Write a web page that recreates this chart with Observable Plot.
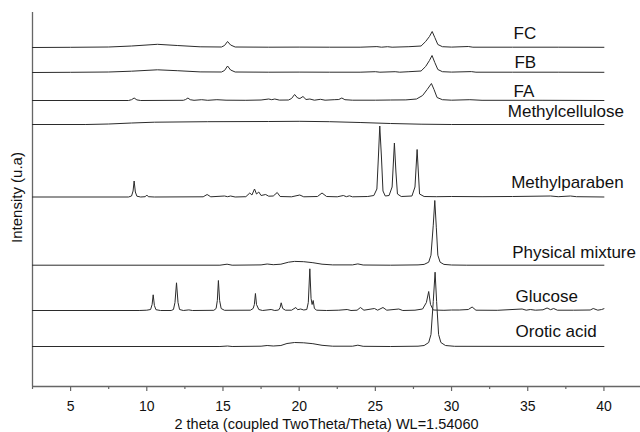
<!DOCTYPE html>
<html>
<head>
<meta charset="utf-8">
<script src="https://cdn.jsdelivr.net/npm/d3@7"></script>
<script src="https://cdn.jsdelivr.net/npm/@observablehq/plot@0.6"></script>
<style>
  html, body { margin: 0; padding: 0; background: #fff; }
  #chart svg { display: block; }
</style>
</head>
<body>
<div id="chart"></div>
<script>
// ---- Data (2θ, relative intensity) ----
const seriesNames = ["FC", "FB", "FA", "Methylcellulose", "Methylparaben", "Physical mixture", "Glucose", "Orotic acid"];

const FC = [[2.5,0],[5,0.2],[7.5,0.5],[9,1.5],[10.7,3.2],[12,2],[13.5,0.7],[14.9,0.5],[15.1,2],[15.3,6],[15.5,2.5],[15.8,0.5],[18,0.3],[20,0.4],[22,0.3],[24,0.3],[25.1,0.9],[25.4,0.3],[25.8,0.8],[26.1,0.3],[27.2,0.8],[28.0,1.5],[28.3,6],[28.55,11],[28.73,16],[28.9,10],[29.1,3],[29.4,0.8],[30,0.4],[31.1,1],[31.4,0.3],[34,0.3],[37,0.3],[40,0.2]];
const FB = [[2.5,0],[5,0.2],[7.5,0.5],[9,1.3],[10.7,2.7],[12,1.8],[13.5,0.6],[14.9,0.5],[15.1,2],[15.3,6.5],[15.5,2.5],[15.8,0.5],[18,0.3],[20,0.4],[22,0.3],[24,0.3],[25.0,0.8],[25.3,0.3],[26.3,0.8],[26.6,0.3],[27.2,0.8],[28.0,1.5],[28.3,6],[28.55,12],[28.72,17],[28.9,10],[29.1,3],[29.4,0.8],[30,0.4],[31.3,0.9],[31.6,0.3],[34,0.3],[37,0.3],[40,0.2]];
const FA = [[2.5,0],[8.8,0],[9.0,0.8],[9.17,2.5],[9.35,0.6],[9.6,0],[12.4,0.2],[12.55,1],[12.7,2.5],[12.85,0.8],[13.1,0.2],[13.6,0.8],[14,0.2],[14.6,0.8],[15.2,0.3],[16.5,0.2],[17.5,0.5],[18.0,1.5],[18.2,0.8],[18.4,1.5],[18.7,0.4],[19.3,0.5],[19.5,2],[19.7,6],[19.9,2.5],[20.05,2],[20.25,4],[20.45,1],[20.7,1.5],[21.0,0.3],[21.4,1.2],[21.7,0.3],[22.3,0.8],[22.6,1],[22.8,2.5],[23.0,0.8],[23.5,0.3],[25,0.3],[26,0.5],[27,0.6],[27.7,1.5],[28.1,5],[28.4,11],[28.68,17],[28.85,11],[29.05,3],[29.4,0.8],[30,0.3],[31.2,0.8],[32,0.2],[36,0.2],[40,0]];
const Methylcellulose = [[2.5,0],[6,0],[7.5,0.5],[9,1.5],[10.5,2.3],[14,2.8],[18,3],[20,3.2],[22,2.8],[24,2],[26,1],[28,0.3],[30,0],[40,0]];
const Methylparaben = [[2.5,0],[8.8,0],[9.0,1],[9.1,6],[9.17,16],[9.25,5],[9.35,0.8],[9.6,0],[9.9,0.3],[10.0,2],[10.1,0.3],[10.5,0],[13.7,0.2],[13.96,2.5],[14.2,0.2],[15.1,1],[15.3,0.3],[15.5,1],[15.8,0],[16.5,0.3],[16.76,4],[16.9,2],[17.07,8],[17.2,3],[17.35,5],[17.5,1.5],[17.8,2.5],[18.0,0.8],[18.3,1],[18.56,4.5],[18.75,0.5],[19.5,0.2],[20.04,2],[20.3,0.2],[21.2,0.5],[21.5,4],[21.8,0.5],[22.5,0.2],[22.9,1.5],[23.1,0.3],[23.3,1.2],[23.5,0.2],[24.5,0.5],[24.9,1.5],[25.1,8],[25.2,40],[25.29,71],[25.4,40],[25.5,6],[25.65,1],[25.9,1.5],[26.1,10],[26.25,54],[26.35,25],[26.45,3],[26.7,0.5],[27.4,1],[27.6,10],[27.74,47.5],[27.82,25],[27.9,3],[28.2,0.5],[29,0.3],[30,0.5],[32,0.3],[34,0.5],[36.5,1],[37,0.3],[37.8,1],[38.2,0.3],[40,0]];
const PhysicalMixture = [[2.5,0],[14.8,0],[15.27,1],[15.6,0],[17.5,0.3],[17.9,1.2],[18.3,0.5],[18.8,1],[19.3,3],[19.7,3.8],[20.3,3.5],[20.9,2.5],[21.5,1],[22.2,0.3],[23.5,0.3],[23.85,1.3],[24.2,0.2],[26,0],[27.8,0.3],[28.2,0.8],[28.5,3],[28.65,10],[28.8,40],[28.9,64.7],[29.0,38],[29.1,10],[29.25,3],[29.5,0.8],[30,0.2],[31,0],[40,0]];
const Glucose = [[2.5,0],[9.5,0],[10.0,0.3],[10.25,1],[10.35,6],[10.42,15.7],[10.5,5],[10.6,0.8],[10.9,0],[11.6,0],[11.75,1],[11.85,8],[11.95,27.7],[12.05,8],[12.15,1],[12.4,0],[12.76,0.6],[13.0,0],[14.4,0.2],[14.55,2],[14.63,10],[14.7,30],[14.78,10],[14.88,2],[15.1,0.2],[16.8,0.3],[16.98,2],[17.06,6],[17.13,17],[17.2,6],[17.35,1],[17.6,0],[18.16,1],[18.4,0],[18.65,0.5],[18.75,3],[18.82,7.7],[18.92,2],[19.1,0.3],[19.5,0.3],[19.78,3],[19.9,0.8],[20.1,1.5],[20.3,0.5],[20.5,1],[20.6,8],[20.7,41.7],[20.78,12],[20.85,6],[20.92,10],[21.0,2],[21.15,0.3],[21.8,0],[22.6,0.3],[23.15,1],[23.4,0],[23.8,0.3],[24.02,3],[24.25,0.3],[24.94,2],[25.15,0.3],[25.5,3],[25.75,0.3],[26.54,1.5],[26.8,0],[27.6,0.3],[28.1,1.5],[28.35,8],[28.5,19],[28.62,6],[28.8,0.5],[29.5,0.2],[30,0.5],[30.5,0.5],[31.1,1],[31.35,3.5],[31.6,0.3],[33,0.2],[34.63,1.5],[34.9,0.3],[35.17,1],[35.5,0.3],[36.0,0.7],[36.27,2.5],[36.5,0.8],[36.7,2],[36.95,0.3],[38,0.3],[39.1,0.5],[39.3,2],[39.6,0.3],[39.85,1],[40,1.8]];
const OroticAcid = [[2.5,0],[14.8,0],[15.3,0.5],[15.6,0],[17.5,0.3],[17.9,1],[18.3,0.5],[18.8,1],[19.2,3],[19.7,4],[20.3,3.7],[20.9,2.8],[21.5,1.2],[22.2,0.3],[23.5,0.3],[23.85,1.3],[24.2,0.2],[26,0],[27.8,0.3],[28.2,1],[28.5,4],[28.65,12],[28.8,45],[28.92,74.3],[29.02,45],[29.15,12],[29.3,4],[29.6,1],[30.2,0.2],[40,0]];

const majorTicks = [5, 10, 15, 20, 25, 30, 35, 40];
const minorTicks = [2.5, 7.5, 12.5, 17.5, 22.5, 27.5, 32.5, 37.5];
const xLabel = "2 theta (coupled TwoTheta/Theta) WL=1.54060";
const yLabel = "Intensity (u.a)";

// ---- Layout (vertical stacking offsets and label placement) ----
const traces = [FC, FB, FA, Methylcellulose, Methylparaben, PhysicalMixture, Glucose, OroticAcid];
const offsets = [339, 314, 286, 262, 189.5, 121.3, 76, 40];
const labelLift = [8.7, 4.3, 4, 7.3, 8.8, 7.4, 8.3, 9.3];
const labelX = [34.07, 34.13, 34.07, 33.69, 33.91, 33.98, 34.2, 34.2];

const rows = [];
traces.forEach((t, i) => t.forEach(([x, v]) => rows.push({series: seriesNames[i], x, y: offsets[i] + v})));
const labelRows = seriesNames.map((name, i) => ({name, x: labelX[i], y: offsets[i] + labelLift[i]}));

const font = "'Liberation Sans', Arial, Helvetica, sans-serif";

const chart = Plot.plot({
  width: 640,
  height: 432,
  marginLeft: 32,
  marginRight: 0,
  marginTop: 12,
  marginBottom: 46,
  style: {fontFamily: font, color: "#111", background: "#fff"},
  x: {domain: [2.5, 42.4], axis: null},
  y: {domain: [0, 374], axis: null},
  marks: [
    Plot.axisX({ticks: minorTicks, tickSize: 3, tickFormat: () => "", stroke: "#666", strokeWidth: 1.2, label: null}),
    Plot.axisX({ticks: majorTicks, tickSize: 5, tickPadding: 10, fontSize: 14, stroke: "#666", strokeWidth: 1.2, fill: "#111", label: null}),
    Plot.ruleY([0], {stroke: "#666", strokeWidth: 1.3}),
    Plot.ruleX([2.5], {stroke: "#666", strokeWidth: 1.3}),
    Plot.line(rows, {x: "x", y: "y", z: "series", stroke: "#2b2b2b", strokeWidth: 1, curve: "linear"}),
    Plot.text(labelRows, {x: "x", y: "y", text: "name", textAnchor: "start", lineAnchor: "bottom", fontSize: 17, fill: "#111"}),
    Plot.text([xLabel], {frameAnchor: "bottom", lineAnchor: "bottom", textAnchor: "middle", dy: 42.5, dx: -10, fontSize: 14.5, fill: "#111"}),
    Plot.text([yLabel], {frameAnchor: "left", textAnchor: "middle", lineAnchor: "middle", dx: -15, dy: -2, rotate: -90, fontSize: 15, fill: "#111"})
  ]
});

document.getElementById("chart").appendChild(chart);
</script>
</body>
</html>
